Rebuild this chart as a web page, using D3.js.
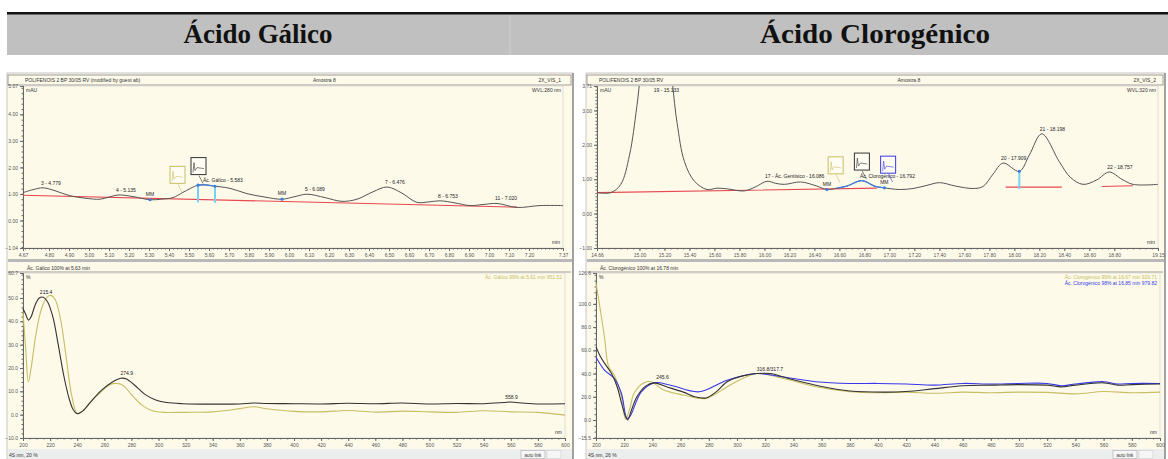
<!DOCTYPE html>
<html>
<head>
<meta charset="utf-8">
<script src="https://cdn.jsdelivr.net/npm/d3@7"></script>
<style>
body { margin: 0; background: #fff; }
svg text { font-family: "Liberation Sans", Arial, sans-serif; }
</style>
</head>
<body>
<svg id="chart" width="1168" height="459"></svg>
<script>
var width = 1168; // page width
var height = 459; // page height

var titles = ["Ácido Gálico", "Ácido Clorogénico"];

// ---- Ácido Gálico chromatogram (min, mAU)
var galicoTime = [4.67, 4.72, 4.77, 4.83, 4.905, 4.98, 5.055, 5.10, 5.145, 5.22, 5.305, 5.36, 5.42, 5.47, 5.545, 5.58, 5.62, 5.705, 5.79, 5.88, 5.965, 6.03, 6.09, 6.18, 6.265, 6.34, 6.42, 6.49, 6.56, 6.64, 6.70, 6.755, 6.83, 6.905, 6.97, 7.04, 7.14, 7.255, 7.37];
var galicoMAU = [1.05, 1.16, 1.23, 1.12, 0.93, 0.84, 0.80, 0.88, 0.96, 0.90, 0.78, 0.80, 0.86, 1.06, 1.33, 1.34, 1.30, 1.21, 1.01, 0.88, 0.80, 0.90, 0.99, 0.86, 0.72, 0.80, 1.08, 1.26, 1.05, 0.68, 0.70, 0.74, 0.66, 0.56, 0.60, 0.64, 0.49, 0.56, 0.56];
var galicoBaseTime = [4.67, 7.14];
var galicoBaseMAU = [0.95, 0.50];
var galicoPeakTime = [4.77, 5.145, 5.58, 6.09, 6.49, 6.755, 7.04];
var galicoPeakMAU = [1.23, 0.96, 1.34, 0.99, 1.26, 0.74, 0.64];
var galicoPeakLabel = ["3 - 4.779", "4 - 5.135", "Ác. Gálico - 5.583", "5 - 6.089", "7 - 6.476", "8 - 6.753", "11 - 7.020"];
var galicoMarkTime = [5.305, 5.965];
var galicoDropTime = [5.545, 5.63];
var galicoThumbTime = [5.405, 5.51];
var galicoThumbMAU = [2.04, 2.37];
var galicoTimeTicks = [4.67, 4.80, 4.90, 5.00, 5.10, 5.20, 5.30, 5.40, 5.50, 5.60, 5.70, 5.80, 5.90, 6.00, 6.10, 6.20, 6.30, 6.40, 6.50, 6.60, 6.70, 6.80, 6.90, 7.00, 7.10, 7.20, 7.37];
var galicoMAUTicks = [-1.04, 0, 1, 2, 3, 4, 5.07];

// ---- Ácido Gálico spectra (nm, %)
var galicoSpecBlack = [[200, 45.5], [202, 43], [204, 40.5], [206, 42], [209, 47], [212, 50], [215, 50.3], [218, 48.5], [222, 42], [226, 30], [230, 17], [234, 7], [237, 2.2], [240, 0.4], [244, 1.5], [250, 5.5], [258, 10.5], [266, 14], [272, 15.6], [276, 15.4], [282, 12.8], [290, 8.7], [298, 6.3], [306, 5.2], [318, 4.7], [340, 4.5], [360, 4.6], [370, 5.0], [380, 4.8], [400, 4.7], [420, 4.6], [440, 4.9], [460, 4.7], [480, 5.0], [500, 4.6], [520, 4.8], [540, 4.7], [555, 5.2], [560, 5.4], [570, 4.9], [580, 4.6], [600, 4.7]];
var galicoSpecYellow = [[200, 44], [202, 28], [204, 14], [206, 20], [210, 36], [214, 46], [218, 50.5], [221, 51], [224, 49], [228, 40], [232, 24], [236, 8], [240, 0.5], [244, 1.5], [250, 5.5], [258, 10], [264, 12.8], [269, 13.4], [274, 12.5], [280, 8.6], [288, 4], [296, 1.6], [304, 1.0], [320, 1.0], [340, 1.2], [360, 2.6], [370, 3.4], [380, 2.5], [400, 1.4], [420, 1.2], [440, 1.8], [460, 1.1], [480, 1.5], [500, 1.2], [520, 1.0], [540, 1.7], [560, 1.2], [580, 1.0], [600, -0.2]];
var galicoSpecLabelNm = [215.4, 274.9, 558.9];
var galicoSpecLabelPct = [50.3, 15.6, 5.4];
var galicoPctTicks = [-10, 0, 10, 20, 30, 40, 50, 60.7];
var galicoLegend = ["Ác. Gálico 99% at 5.61 min   951.51"];

// ---- Ácido Clorogénico chromatogram (min, mAU)
var cloroTime = [14.66, 14.77, 14.85, 14.92, 14.98, 15.04, 15.13, 15.22, 15.30, 15.36, 15.44, 15.54, 15.62, 15.70, 15.84, 15.93, 16.02, 16.09, 16.16, 16.29, 16.42, 16.50, 16.58, 16.66, 16.78, 16.88, 16.96, 17.08, 17.19, 17.30, 17.40, 17.53, 17.67, 17.75, 17.83, 17.91, 18.04, 18.12, 18.22, 18.36, 18.45, 18.55, 18.66, 18.76, 18.86, 18.95, 19.15];
var cloroMAU = [0.61, 0.61, 0.85, 1.70, 3.14, 5.0, 6.2, 5.0, 2.66, 1.51, 0.94, 0.70, 0.74, 0.72, 0.66, 0.78, 0.94, 0.88, 0.85, 0.92, 0.80, 0.70, 0.74, 0.80, 0.96, 0.80, 0.75, 0.70, 0.73, 0.82, 0.90, 0.80, 0.73, 0.79, 1.15, 1.47, 1.23, 1.70, 2.32, 1.51, 1.05, 0.85, 0.98, 1.21, 1.00, 0.85, 0.85];
var cloroBaseTime = [14.66, 16.90, null, 17.93, 18.38, null, 18.70, 18.95];
var cloroBaseMAU = [0.61, 0.74, null, 0.77, 0.77, null, 0.79, 0.81];
var cloroPeakTime = [15.13, 16.02, 16.78, 17.91, 18.22, 18.76];
var cloroPeakMAU = [6.2, 0.94, 0.96, 1.47, 2.32, 1.21];
var cloroPeakLabel = ["19 - 15.133", "17 - Ác. Gentísico - 16.086", "Ác. Clorogénico - 16.792", "20 - 17.909", "21 - 18.198", "22 - 18.757"];
var cloroMarkTime = [16.50, 16.96];
var cloroDropTime = [18.04];
var cloroThumbTime = [16.51, 16.72, 16.93];
var cloroThumbMAU = [1.65, 1.76, 1.67];
var cloroTimeTicks = [14.66, 15.00, 15.20, 15.40, 15.60, 15.80, 16.00, 16.20, 16.40, 16.60, 16.80, 17.00, 17.20, 17.40, 17.60, 17.80, 18.00, 18.20, 18.40, 18.60, 18.80, 19.15];
var cloroMAUTicks = [-1.00, 0, 1, 2, 3, 3.71];

// ---- Ácido Clorogénico spectra (nm, %)
var cloroSpecBlack = [[200, 63], [203, 55], [206, 49], [211, 40], [215, 28.6], [218, 15], [221, 2.9], [222.5, 0], [225, 8], [229, 20], [235, 29], [241, 32], [250, 28.6], [262, 24], [270, 20], [278, 19], [285, 24], [293, 33], [304, 38], [314, 40], [324, 40], [333, 37], [342, 34], [361, 28.6], [380, 25], [404, 24], [420, 24.5], [440, 27], [460, 29.5], [480, 30], [500, 30.5], [520, 30], [530, 28.5], [540, 30], [560, 32], [570, 30], [580, 30.5], [600, 31]];
var cloroSpecYellow = [[200, 117.6], [202, 103], [206, 71.5], [209, 45.8], [213, 38.6], [218, 20], [221, 0.6], [224, 10], [227, 23], [234, 32], [239, 33], [248, 25.8], [262, 21.5], [278, 18.6], [295, 30], [314, 40], [333, 35.8], [356, 28.6], [380, 24.3], [400, 23.5], [420, 24], [440, 23], [460, 24], [480, 23.5], [500, 24], [520, 23.8], [540, 22.5], [560, 24.5], [580, 23.5], [600, 24]];
var cloroSpecBlue = [[200, 54], [206, 43], [213, 35.8], [218, 23], [222, 1.4], [224, 2.9], [232, 24], [241, 32], [253, 30], [273, 24.3], [293, 34.3], [314, 40], [333, 37], [356, 33], [380, 31.5], [400, 31.5], [420, 31], [440, 30], [460, 31.5], [480, 31], [500, 31.5], [520, 31.5], [530, 29.5], [540, 31], [560, 33], [570, 31], [580, 31.5], [600, 31.5]];
var cloroSpecLabelNm = [245.6, 316.8];
var cloroSpecLabelPct = [33, 40];
var cloroSpecLabelText = ["245.6", "316.8/317.7"];
var cloroPctTicks = [-15.5, 0, 20, 40, 60, 80, 100, 126.6];
var cloroLegend = ["Ác. Clorogénico 99% at 16.67 min   929.71", "Ác. Clorogénico 98% at 16.85 min   979.82"];

var nmTicks = [200, 220, 240, 260, 280, 300, 320, 340, 360, 380, 400, 420, 440, 460, 480, 500, 520, 540, 560, 580, 600];

var cream = "#fdfaea";
var yellowLine = "#c8bd62";
var blueLine = "#3838e8";
var lightBlue = "#78d0f4";

var svg = d3.select("#chart").attr("width", width).attr("height", height);

// Header band with the two titles
svg.append("rect").attr("x", 7).attr("y", 14).attr("width", width - 7).attr("height", 41).attr("fill", "#c0c0c0");
svg.append("rect").attr("x", 7).attr("y", 12).attr("width", width - 7).attr("height", 2.5).attr("fill", "#111");
svg.append("line").attr("x1", 510).attr("x2", 510).attr("y1", 15).attr("y2", 55).attr("stroke", "#cfcfcf");
svg.selectAll("text.title")
    .data(titles)
    .enter().append("text")
    .attr("class", "title")
    .attr("x", function (d, i) { return i == 0 ? 258 : 875; })
    .attr("y", 43)
    .attr("text-anchor", "middle")
    .attr("textLength", function (d, i) { return i == 0 ? 149 : 230; })
    .attr("lengthAdjust", "spacingAndGlyphs")
    .style("font-family", "'Liberation Serif', serif")
    .style("font-weight", "bold")
    .style("font-size", "28px")
    .attr("fill", "#111")
    .text(function (d) { return d; });

function smallText(g, x, y, txt, opts) {
    opts = opts || {};
    return g.append("text")
        .attr("x", x).attr("y", y)
        .attr("text-anchor", opts.anchor || "start")
        .attr("fill", opts.color || "#333")
        .style("font-size", (opts.size || 5) + "px")
        .text(txt);
}

function styleAxis(ax) {
    ax.selectAll("path.domain").attr("stroke", "#666");
    ax.selectAll("line").attr("stroke", "#666");
    ax.selectAll("text").attr("fill", "#555").style("font-size", "5px").style("font-family", "'Liberation Sans', Arial, sans-serif");
}

// Function to draw one side (chromatogram + spectrum)
function drawSide(cfg) {
    var g = svg.append("g");

    // panel background and frame
    g.append("rect").attr("x", cfg.x0).attr("y", 73).attr("width", cfg.x1 - cfg.x0).attr("height", 386)
        .attr("fill", cream).attr("stroke", "#bbb").attr("stroke-width", 0.8);
    g.append("line").attr("x1", cfg.x1).attr("x2", cfg.x1).attr("y1", 73).attr("y2", 459)
        .attr("stroke", "#777").attr("stroke-width", 1.2);

    // ---------- chromatogram ----------
    var x = d3.scaleLinear().domain([cfg.timeTicks[0], cfg.timeTicks[cfg.timeTicks.length - 1]]).range([cfg.cx0, cfg.cx1]);
    var y = d3.scaleLinear().domain([cfg.mauTicks[0], cfg.mauTicks[cfg.mauTicks.length - 1]]).range([248, 86]);

    // title bar
    g.append("rect").attr("x", cfg.x0 + 1).attr("y", 75).attr("width", cfg.x1 - cfg.x0 - 3).attr("height", 10)
        .attr("fill", cream).attr("stroke", "#888").attr("stroke-width", 0.8);
    smallText(g, cfg.cx0 + 2, 82, cfg.chromTitle[0]);
    smallText(g, (cfg.cx0 + cfg.cx1) / 2 + 20, 82, cfg.chromTitle[1]);
    smallText(g, cfg.cx1 - 2, 82, cfg.chromTitle[2], { anchor: "end" });
    smallText(g, cfg.cx1 - 2, 92, cfg.chromTitle[3], { anchor: "end" });
    smallText(g, cfg.cx0 + 3, 92, "mAU");
    smallText(g, cfg.cx1 - 3, 244, "min", { anchor: "end" });

    // frame of the plot
    g.append("rect").attr("x", cfg.cx0).attr("y", 86).attr("width", cfg.cx1 - cfg.cx0).attr("height", 162)
        .attr("fill", "none").attr("stroke", "#ccc").attr("stroke-width", 0.6);

    var xAx = g.append("g").attr("transform", "translate(0,248)")
        .call(d3.axisBottom(x).tickValues(cfg.timeTicks).tickFormat(d3.format(".2f")).tickSize(3).tickPadding(2));
    styleAxis(xAx);
    var xMinor = g.append("g").attr("transform", "translate(0,248)")
        .call(d3.axisBottom(x).ticks(130).tickFormat("").tickSize(1.5));
    styleAxis(xMinor);
    var yAx = g.append("g").attr("transform", "translate(" + cfg.cx0 + ",0)")
        .call(d3.axisLeft(y).tickValues(cfg.mauTicks).tickFormat(d3.format(".2f")).tickSize(3).tickPadding(2));
    styleAxis(yAx);
    var yMinor = g.append("g").attr("transform", "translate(" + cfg.cx0 + ",0)")
        .call(d3.axisLeft(y).ticks(40).tickFormat("").tickSize(1.5));
    styleAxis(yMinor);

    var clipId = "clip-" + cfg.id;
    svg.append("clipPath").attr("id", clipId).append("rect")
        .attr("x", cfg.cx0).attr("y", 86).attr("width", cfg.cx1 - cfg.cx0).attr("height", 162);
    var plot = g.append("g").attr("clip-path", "url(#" + clipId + ")");

    var line = d3.line()
        .defined(function (d) { return d[0] != null && d[1] != null; })
        .x(function (d) { return x(d[0]); })
        .y(function (d) { return y(d[1]); });
    var smooth = d3.line()
        .x(function (d) { return x(d[0]); })
        .y(function (d) { return y(d[1]); })
        .curve(d3.curveCatmullRom.alpha(0.5));

    var trace = d3.zip(cfg.time, cfg.mau);
    var base = d3.zip(cfg.baseTime, cfg.baseMAU);

    // baseline in red
    plot.append("path").datum(base).attr("d", line)
        .attr("fill", "none").attr("stroke", "#e8474f").attr("stroke-width", 1.1);

    // drop lines (light blue)
    var baseAt = d3.scaleLinear().domain([cfg.baseTime[0], cfg.baseTime[1]]).range([cfg.baseMAU[0], cfg.baseMAU[1]]);
    var sigAt = d3.scaleLinear().domain(cfg.time).range(cfg.mau);
    plot.selectAll("line.drop")
        .data(cfg.dropTime)
        .enter().append("line")
        .attr("class", "drop")
        .attr("x1", function (d) { return x(d); })
        .attr("x2", function (d) { return x(d); })
        .attr("y1", function (d) { return y(sigAt(d)); })
        .attr("y2", function (d) { return y(baseAt(d)) + 3; })
        .attr("stroke", lightBlue).attr("stroke-width", 2);

    // the chromatogram trace
    plot.append("path").datum(trace).attr("d", smooth)
        .attr("fill", "none").attr("stroke", "#555").attr("stroke-width", 1);

    // blue integration segment around the highlighted peak
    var hi = trace.filter(function (d) { return d[0] >= cfg.blueRange[0] && d[0] <= cfg.blueRange[1]; });
    plot.append("path").datum(hi).attr("d", smooth)
        .attr("fill", "none").attr("stroke", "#3b7fe0").attr("stroke-width", 1.2);

    // marker dots
    plot.selectAll("circle.mk")
        .data(cfg.markTime.concat(cfg.dropTime))
        .enter().append("circle")
        .attr("class", "mk")
        .attr("cx", function (d) { return x(d); })
        .attr("cy", function (d) { return y(sigAt(d)); })
        .attr("r", 1.6)
        .attr("fill", "#3b7fe0");

    // "MM" marks
    cfg.markTime.forEach(function (t) {
        smallText(plot, x(t), y(sigAt(t)) - 4, "MM", { anchor: "middle", color: "#222" });
    });

    // peak labels
    cfg.peakTime.forEach(function (t, i) {
        var ly = Math.max(y(cfg.peakMAU[i]) - 3, 92);
        smallText(plot, x(t) - 2, ly, cfg.peakLabel[i], { color: "#222" });
    });

    // spectrum thumbnails
    cfg.thumbTime.forEach(function (t, i) {
        var bx = x(t), by = y(cfg.thumbMAU[i]);
        var col = cfg.thumbColors[i];
        g.append("line").attr("x1", bx + 8).attr("y1", by + 18).attr("x2", bx + 12).attr("y2", by + 26)
            .attr("stroke", col).attr("stroke-width", 0.6);
        g.append("rect").attr("x", bx).attr("y", by).attr("width", 15).attr("height", 17)
            .attr("fill", "#fffdf3").attr("stroke", col).attr("stroke-width", 1);
        g.append("path")
            .attr("d", "M" + (bx + 2) + "," + (by + 15) + "l1,-10l1,8l2,-3l7,1")
            .attr("fill", "none").attr("stroke", col).attr("stroke-width", 0.6);
    });

    // separator
    g.append("rect").attr("x", cfg.x0 + 1).attr("y", 259).attr("width", cfg.x1 - cfg.x0 - 2).attr("height", 3).attr("fill", "#b9b9b9");

    // ---------- spectrum ----------
    var sx = d3.scaleLinear().domain([nmTicks[0], nmTicks[nmTicks.length - 1]]).range([cfg.sx0, cfg.sx1]);
    var sy = d3.scaleLinear().domain([cfg.pctTicks[0], cfg.pctTicks[cfg.pctTicks.length - 1]]).range([438, 273]);

    g.append("line").attr("x1", cfg.x0 + 1).attr("x2", cfg.x1 - 2).attr("y1", 272).attr("y2", 272).attr("stroke", "#888").attr("stroke-width", 0.8);
    smallText(g, cfg.sx0 + 4, 270, cfg.specTitle);
    smallText(g, cfg.sx0 + 3, 279, "%");
    smallText(g, cfg.sx1 - 3, 434, "nm", { anchor: "end" });

    g.append("rect").attr("x", cfg.sx0).attr("y", 273).attr("width", cfg.sx1 - cfg.sx0).attr("height", 165)
        .attr("fill", "none").attr("stroke", "#ccc").attr("stroke-width", 0.6);

    var sxAx = g.append("g").attr("transform", "translate(0,438)")
        .call(d3.axisBottom(sx).tickValues(nmTicks).tickFormat(d3.format("d")).tickSize(3).tickPadding(2));
    styleAxis(sxAx);
    var sxMinor = g.append("g").attr("transform", "translate(0,438)")
        .call(d3.axisBottom(sx).ticks(100).tickFormat("").tickSize(1.5));
    styleAxis(sxMinor);
    var syAx = g.append("g").attr("transform", "translate(" + cfg.sx0 + ",0)")
        .call(d3.axisLeft(sy).tickValues(cfg.pctTicks).tickFormat(d3.format(".1f")).tickSize(3).tickPadding(2));
    styleAxis(syAx);
    var syMinor = g.append("g").attr("transform", "translate(" + cfg.sx0 + ",0)")
        .call(d3.axisLeft(sy).ticks(40).tickFormat("").tickSize(1.5));
    styleAxis(syMinor);

    var specLine = d3.line()
        .x(function (d) { return sx(d[0]); })
        .y(function (d) { return sy(d[1]); })
        .curve(d3.curveCatmullRom.alpha(0.5));

    g.selectAll("path.spec-" + cfg.id)
        .data(cfg.spectra)
        .enter().append("path")
        .attr("class", "spec-" + cfg.id)
        .attr("d", function (d) { return specLine(d.values); })
        .attr("fill", "none")
        .attr("stroke", function (d) { return d.color; })
        .attr("stroke-width", 1.1);

    cfg.specLabelNm.forEach(function (nm, i) {
        smallText(g, sx(nm) - 4, sy(cfg.specLabelPct[i]) - 3, cfg.specLabelText[i], { color: "#222" });
    });

    cfg.legend.forEach(function (txt, i) {
        smallText(g, cfg.sx1 - 3, 279 + i * 6, txt, { anchor: "end", color: cfg.legendColors[i] });
    });

    // status bar
    g.append("rect").attr("x", cfg.x0 + 1).attr("y", 449).attr("width", cfg.x1 - cfg.x0 - 2).attr("height", 10).attr("fill", "#eceeee");
    smallText(g, cfg.x0 + 2, 457, cfg.status);
    g.append("rect").attr("x", cfg.x1 - 52).attr("y", 450.5).attr("width", 24).attr("height", 8)
        .attr("fill", "#f6f6f6").attr("stroke", "#aaa").attr("stroke-width", 0.6);
    smallText(g, cfg.x1 - 40, 456.5, "auto link", { anchor: "middle", size: 4.5 });
    g.append("rect").attr("x", cfg.x1 - 26).attr("y", 450.5).attr("width", 14).attr("height", 8)
        .attr("fill", "#f6f6f6").attr("stroke", "#ccc").attr("stroke-width", 0.6);
}

drawSide({
    id: "galico",
    x0: 7, x1: 573, cx0: 23, cx1: 563, sx0: 23, sx1: 565,
    time: galicoTime, mau: galicoMAU,
    baseTime: galicoBaseTime, baseMAU: galicoBaseMAU,
    peakTime: galicoPeakTime, peakMAU: galicoPeakMAU, peakLabel: galicoPeakLabel,
    markTime: galicoMarkTime, dropTime: galicoDropTime,
    blueRange: [5.50, 5.65],
    thumbTime: galicoThumbTime, thumbMAU: galicoThumbMAU, thumbColors: [yellowLine, "#333"],
    timeTicks: galicoTimeTicks, mauTicks: galicoMAUTicks,
    chromTitle: ["POLIFENOIS 2 BP 30/05 RV (modified by guest ab)", "Amostra 8", "2X_VIS_1", "WVL:280 nm"],
    specTitle: "Ác. Gálico  100% at 5.63 min",
    pctTicks: galicoPctTicks,
    spectra: [{ values: galicoSpecYellow, color: yellowLine }, { values: galicoSpecBlack, color: "#333" }],
    specLabelNm: galicoSpecLabelNm, specLabelPct: galicoSpecLabelPct,
    specLabelText: galicoSpecLabelNm.map(d3.format(".1f")),
    legend: galicoLegend, legendColors: [yellowLine],
    status: "4S nm, 20 %"
});

drawSide({
    id: "cloro",
    x0: 586, x1: 1165, cx0: 597, cx1: 1158, sx0: 596, sx1: 1160,
    time: cloroTime, mau: cloroMAU,
    baseTime: cloroBaseTime, baseMAU: cloroBaseMAU,
    peakTime: cloroPeakTime, peakMAU: cloroPeakMAU, peakLabel: cloroPeakLabel,
    markTime: cloroMarkTime, dropTime: cloroDropTime,
    blueRange: [16.58, 16.96],
    thumbTime: cloroThumbTime, thumbMAU: cloroThumbMAU, thumbColors: [yellowLine, "#333", blueLine],
    timeTicks: cloroTimeTicks, mauTicks: cloroMAUTicks,
    chromTitle: ["POLIFENOIS 2 BP 30/05 RV", "Amostra 8", "2X_VIS_2", "WVL:320 nm"],
    specTitle: "Ác. Clorogénico  100% at 16.78 min",
    pctTicks: cloroPctTicks,
    spectra: [{ values: cloroSpecYellow, color: yellowLine }, { values: cloroSpecBlue, color: blueLine }, { values: cloroSpecBlack, color: "#333" }],
    specLabelNm: cloroSpecLabelNm, specLabelPct: cloroSpecLabelPct,
    specLabelText: cloroSpecLabelText,
    legend: cloroLegend, legendColors: [yellowLine, blueLine],
    status: "4S nm, 26 %"
});
</script>
</body>
</html>
